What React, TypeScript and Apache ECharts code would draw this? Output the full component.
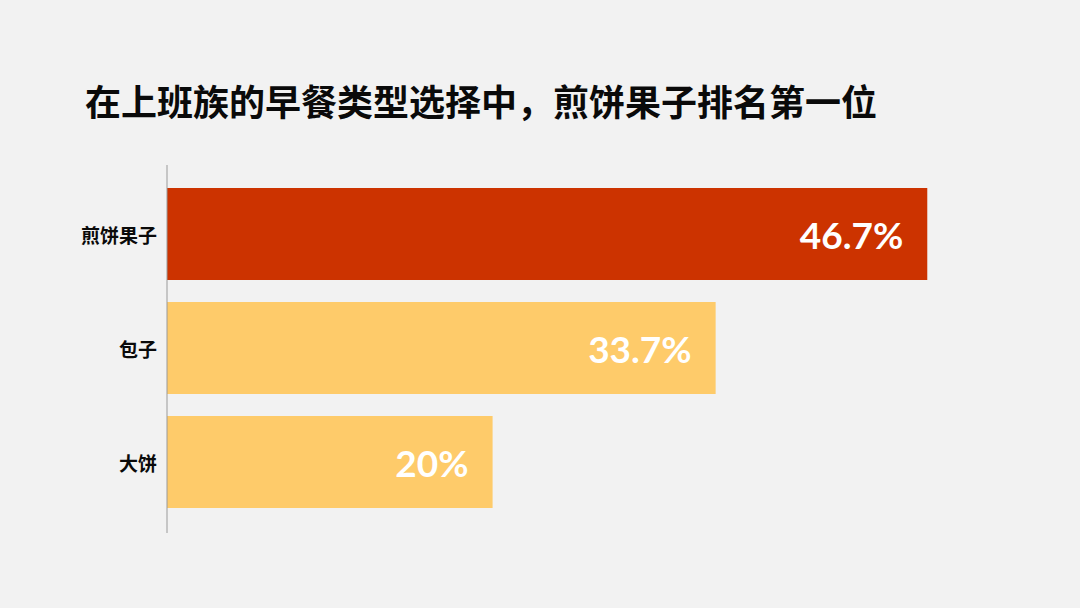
import React, { useEffect, useRef } from "react";
import * as echarts from "echarts";

const titleText = "在上班族的早餐类型选择中，煎饼果子排名第一位";
const categories = ["煎饼果子", "包子", "大饼"];
const values = [46.7, 33.7, 20];
const barColors = ["#CC3300", "#FECB6A", "#FECB6A"];

export default function App() {
  const ref = useRef<HTMLDivElement>(null);
  useEffect(() => {
    if (!ref.current) return;
    document.body.style.margin = "0";
    const chart = echarts.init(ref.current, null, { renderer: "svg" });
    chart.setOption({
      animation: false,
      backgroundColor: "#F2F2F2",
      title: {
        text: titleText,
        left: 80,
        top: 77,
        textStyle: {
          fontFamily: "Noto Sans CJK SC",
          fontWeight: "bold",
          fontSize: 36,
          color: "#0A0A0A",
        },
      },
      grid: { left: 167, right: 99, top: 177, height: 342 },
      xAxis: {
        type: "value",
        min: 0,
        max: 50,
        show: false,
      },
      yAxis: {
        type: "category",
        data: categories,
        inverse: true,
        axisLine: { show: false },
        axisTick: { show: false },
        splitLine: { show: false },
        axisLabel: {
          margin: 10,
          fontFamily: "Noto Sans CJK SC",
          fontWeight: "bold",
          fontSize: 19,
          color: "#0A0A0A",
        },
      },
      graphic: [
        {
          type: "line",
          shape: { x1: 167, y1: 165, x2: 167, y2: 533 },
          style: { stroke: "#9A9A9A", lineWidth: 1 },
          z: 10,
        },
      ],
      series: [
        {
          type: "bar",
          barWidth: 92,
          data: values.map((v, i) => ({
            value: v,
            itemStyle: { color: barColors[i] },
          })),
          label: {
            show: true,
            position: "insideRight",
            distance: 24,
            formatter: (p: any) => `${p.value}%`,
            color: "#FFFFFF",
            fontFamily: "Lato",
            fontWeight: "bold",
            fontSize: 37,
          },
        },
      ],
    });
    return () => chart.dispose();
  }, []);
  return (
    <div
      ref={ref}
      style={{ position: "fixed", left: 0, top: 0, width: 1080, height: 608 }}
    />
  );
}
